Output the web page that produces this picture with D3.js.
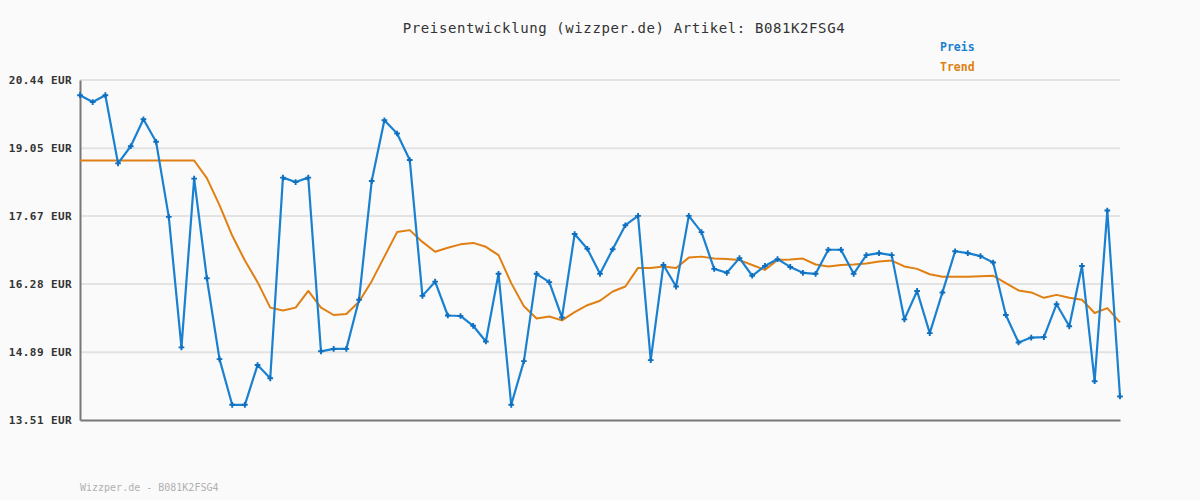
<!DOCTYPE html>
<html>
<head>
<meta charset="utf-8">
<script src="https://cdn.jsdelivr.net/npm/d3@7"></script>
<style>
  html, body { margin: 0; padding: 0; background: #fafafa; }
  svg { display: block; }
  text { font-family: "DejaVu Sans Mono", "Liberation Mono", monospace; }
</style>
</head>
<body>
<svg id="chart" width="1200" height="500"></svg>
<script>
const titleText = "Preisentwicklung (wizzper.de) Artikel: B081K2FSG4";
const footerText = "Wizzper.de - B081K2FSG4";
const seriesNames = ["Preis", "Trend"];
const yTicks = [13.51, 14.89, 16.28, 17.67, 19.05, 20.44];
const yTickLabels = ["13.51 EUR", "14.89 EUR", "16.28 EUR", "17.67 EUR", "19.05 EUR", "20.44 EUR"];

const prices = [
  20.13, 19.99, 20.13, 18.74, 19.09, 19.64, 19.18, 17.65, 14.99, 18.43,
  16.40, 14.75, 13.82, 13.82, 14.63, 14.36, 18.45, 18.36, 18.45, 14.91,
  14.96, 14.96, 15.96, 18.38, 19.62, 19.35, 18.81, 16.04, 16.33, 15.64,
  15.63, 15.43, 15.11, 16.49, 13.82, 14.71, 16.49, 16.32, 15.60, 17.30,
  17.00, 16.49, 16.99, 17.48, 17.67, 14.73, 16.67, 16.23, 17.67, 17.34,
  16.59, 16.51, 16.81, 16.45, 16.65, 16.79, 16.63, 16.51, 16.49, 16.98,
  16.98, 16.49, 16.87, 16.91, 16.87, 15.56, 16.14, 15.28, 16.11, 16.95,
  16.91, 16.85, 16.72, 15.65, 15.09, 15.19, 15.20, 15.87, 15.42, 16.65,
  14.30, 17.78, 13.99
];

const trend = [
  18.80, 18.80, 18.80, 18.80, 18.80, 18.80, 18.80, 18.80, 18.80, 18.80,
  18.44, 17.89, 17.27, 16.76, 16.32, 15.80, 15.74, 15.80, 16.14, 15.80,
  15.65, 15.67, 15.92, 16.34, 16.84, 17.34, 17.38, 17.14, 16.94, 17.02,
  17.09, 17.12, 17.04, 16.87, 16.30, 15.83, 15.58, 15.62, 15.54, 15.71,
  15.85, 15.94, 16.13, 16.23, 16.61, 16.61, 16.64, 16.61, 16.82, 16.84,
  16.80, 16.79, 16.77, 16.67, 16.57, 16.77, 16.78, 16.80, 16.68, 16.64,
  16.67, 16.68, 16.70, 16.74, 16.76, 16.64, 16.59, 16.48, 16.43, 16.43,
  16.43, 16.44, 16.45, 16.30, 16.15, 16.11, 16.00, 16.06, 16.00, 15.96,
  15.69, 15.79, 15.50
];

const categories = d3.range(prices.length);

const svg = d3.select("#chart");
const W = 1200, H = 500;
const m = { left: 80, right: 80, top: 80, bottom: 80 };
const colors = { price: "#1a80d0", trend: "#e07f12" };

svg.append("rect").attr("width", W).attr("height", H).attr("fill", "#fafafa");

const x = d3.scaleLinear().domain([0, categories.length - 1]).range([m.left, W - m.right]);
const y = d3.scaleLinear().domain([yTicks[0], yTicks[yTicks.length - 1]]).range([H - m.bottom, m.top]);

// gridlines
svg.append("g")
  .selectAll("line")
  .data(yTicks.slice(1))
  .join("line")
  .attr("x1", m.left).attr("x2", W - m.right)
  .attr("y1", d => y(d)).attr("y2", d => y(d))
  .attr("stroke", "#e3e3e3").attr("stroke-width", 2);

// y axis
const yAxis = d3.axisLeft(y)
  .tickValues(yTicks)
  .tickFormat((d, i) => yTickLabels[i])
  .tickSize(0)
  .tickPadding(8);
const gy = svg.append("g").attr("transform", `translate(${m.left},0)`).call(yAxis);
gy.select(".domain").attr("stroke", "#777").attr("stroke-width", 2);
gy.selectAll("text")
  .attr("font-family", "'DejaVu Sans Mono', monospace")
  .attr("font-size", 11)
  .attr("font-weight", "bold")
  .attr("letter-spacing", 0.4)
  .attr("fill", "#333");

// x axis (bottom line, no labels)
const xAxis = d3.axisBottom(x).tickValues([]).tickSize(0);
const gx = svg.append("g").attr("transform", `translate(0,${H - m.bottom})`).call(xAxis);
gx.select(".domain").attr("stroke", "#777").attr("stroke-width", 2);

// trend line
svg.append("path")
  .datum(trend)
  .attr("fill", "none")
  .attr("stroke", colors.trend)
  .attr("stroke-width", 2)
  .attr("stroke-linejoin", "round")
  .attr("d", d3.line().x((d, i) => x(i)).y(d => y(d)));

// price line
svg.append("path")
  .datum(prices)
  .attr("fill", "none")
  .attr("stroke", colors.price)
  .attr("stroke-width", 2.2)
  .attr("stroke-linejoin", "round")
  .attr("d", d3.line().x((d, i) => x(i)).y(d => y(d)));

// markers
svg.append("g")
  .selectAll("path")
  .data(prices)
  .join("path")
  .attr("transform", (d, i) => `translate(${x(i)},${y(d)})`)
  .attr("d", d3.symbol(d3.symbolCross, 18)())
  .attr("fill", "#0f6fbf");

// title
svg.append("text")
  .attr("x", 624).attr("y", 33)
  .attr("text-anchor", "middle")
  .attr("font-size", 14)
  .attr("letter-spacing", 0.6)
  .attr("fill", "#333")
  .text(titleText);

// legend
svg.append("text")
  .attr("x", 940).attr("y", 51)
  .attr("font-size", 11.5).attr("font-weight", "bold")
  .attr("fill", colors.price)
  .text(seriesNames[0]);
svg.append("text")
  .attr("x", 940).attr("y", 71)
  .attr("font-size", 11.5).attr("font-weight", "bold")
  .attr("fill", colors.trend)
  .text(seriesNames[1]);

// footer
svg.append("text")
  .attr("x", 80).attr("y", 491)
  .attr("font-size", 10)
  .attr("fill", "#b0b0b0")
  .text(footerText);
</script>
</body>
</html>
